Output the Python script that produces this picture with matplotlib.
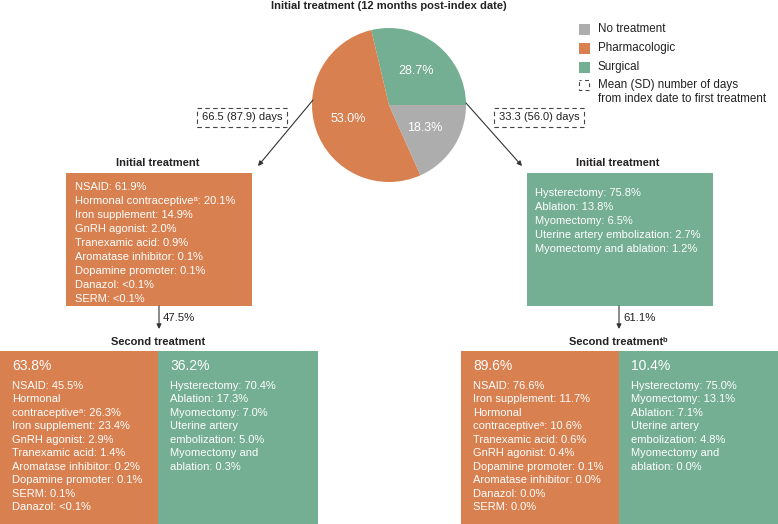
import matplotlib
matplotlib.use("Agg")
import matplotlib.pyplot as plt
from matplotlib.patches import Rectangle

# ---------------- data ----------------
pie_labels = ["Surgical", "Pharmacologic", "No treatment"]
pie_values = [28.7, 53.0, 18.3]
legend_labels = ["No treatment", "Pharmacologic", "Surgical"]
days_pharm = "66.5 (87.9) days"
days_surg = "33.3 (56.0) days"

pharm_init_names = ["NSAID", "Hormonal contraceptive\u1d43", "Iron supplement", "GnRH agonist",
                    "Tranexamic acid", "Aromatase inhibitor", "Dopamine promoter", "Danazol", "SERM"]
pharm_init_vals = ["61.9%", "20.1%", "14.9%", "2.0%", "0.9%", "0.1%", "0.1%", "<0.1%", "<0.1%"]

surg_init_names = ["Hysterectomy", "Ablation", "Myomectomy", "Uterine artery embolization",
                   "Myomectomy and ablation"]
surg_init_vals = ["75.8%", "13.8%", "6.5%", "2.7%", "1.2%"]

pharm_to_second = "47.5%"
surg_to_second = "61.1%"

# second treatment after pharmacologic
p2_pharm_share = "63.8%"
p2_pharm_names = ["NSAID", "Hormonal\ncontraceptive\u1d43", "Iron supplement", "GnRH agonist",
                  "Tranexamic acid", "Aromatase inhibitor", "Dopamine promoter", "SERM", "Danazol"]
p2_pharm_vals = ["45.5%", "26.3%", "23.4%", "2.9%", "1.4%", "0.2%", "0.1%", "0.1%", "<0.1%"]
p2_surg_share = "36.2%"
p2_surg_names = ["Hysterectomy", "Ablation", "Myomectomy", "Uterine artery\nembolization",
                 "Myomectomy and\nablation"]
p2_surg_vals = ["70.4%", "17.3%", "7.0%", "5.0%", "0.3%"]

# second treatment after surgical
s2_pharm_share = "89.6%"
s2_pharm_names = ["NSAID", "Iron supplement", "Hormonal\ncontraceptive\u1d43", "Tranexamic acid",
                  "GnRH agonist", "Dopamine promoter", "Aromatase inhibitor", "Danazol", "SERM"]
s2_pharm_vals = ["76.6%", "11.7%", "10.6%", "0.6%", "0.4%", "0.1%", "0.0%", "0.0%", "0.0%"]
s2_surg_share = "10.4%"
s2_surg_names = ["Hysterectomy", "Myomectomy", "Ablation", "Uterine artery\nembolization",
                 "Myomectomy and\nablation"]
s2_surg_vals = ["75.0%", "13.1%", "7.1%", "4.8%", "0.0%"]

# ---------------- style ----------------
ORANGE = "#D8804F"
GREEN = "#74AE93"
GRAY = "#ADADAD"
DARK = "#222222"
FAM = ["Liberation Sans", "DejaVu Sans"]
plt.rcParams["font.family"] = FAM

W, H = 778, 524
fig = plt.figure(figsize=(W / 100, H / 100), dpi=100)
ax = fig.add_axes([0, 0, 1, 1])

# pie
cx, cy, r = 389, 105, 77
pie_colors = {"Surgical": GREEN, "Pharmacologic": ORANGE, "No treatment": GRAY}
wedges, _, autotexts = ax.pie(pie_values, colors=[pie_colors[l] for l in pie_labels],
                              startangle=0, counterclock=False, center=(cx, cy), radius=r,
                              autopct="%.1f%%", pctdistance=0.56,
                              wedgeprops=dict(linewidth=0), frame=False)
for t in autotexts:
    t.set_color("white")
    t.set_fontsize(9)

ax.set_xlim(0, W)
ax.set_ylim(H, 0)
ax.set_aspect("equal")
ax.axis("off")

# title
ax.text(389, 6, "Initial treatment (12 months post-index date)", ha="center", va="center",
        fontsize=8, fontweight="bold", color=DARK)

# legend
leg_y = [29, 48, 67]
for yy, lab in zip(leg_y, legend_labels):
    ax.add_patch(Rectangle((579, yy - 5.5), 11, 11, facecolor=pie_colors[lab], edgecolor="none"))
    ax.text(598, yy, lab, ha="left", va="center", fontsize=8.4, color=DARK)
ax.add_patch(Rectangle((579.5, 79.5), 10, 10, facecolor="none", edgecolor="#444444", lw=0.8,
                       linestyle=(1.5, (3.5, 3))))
ax.text(598, 85, "Mean (SD) number of days", ha="left", va="center", fontsize=8.4, color=DARK)
ax.text(598, 99, "from index date to first treatment", ha="left", va="center", fontsize=8.4,
        color=DARK)

# dashed day boxes
box_kw = dict(boxstyle="square,pad=0.4", facecolor="white", edgecolor="#444444", lw=0.8,
              linestyle=(0, (4, 3)))
ax.text(242, 117.5, days_pharm, ha="center", va="center", fontsize=8, color=DARK, bbox=box_kw)
ax.text(539, 117.5, days_surg, ha="center", va="center", fontsize=8, color=DARK, bbox=box_kw)

arrow_kw = dict(arrowstyle="-|>", color="#333333", lw=0.8, mutation_scale=7,
                shrinkA=0, shrinkB=0)
ax.annotate("", xy=(258, 166), xytext=(313, 100), arrowprops=arrow_kw)
ax.annotate("", xy=(522, 166), xytext=(466, 103), arrowprops=arrow_kw)

# initial treatment boxes
ax.text(158, 163, "Initial treatment", ha="center", va="center", fontsize=8,
        fontweight="bold", color=DARK)
ax.add_patch(Rectangle((66, 173), 186, 133, facecolor=ORANGE, edgecolor="none"))
for i, (n, v) in enumerate(zip(pharm_init_names, pharm_init_vals)):
    ax.text(75, 187 + 14 * i, f"{n}: {v}", ha="left", va="center", fontsize=8, color="white")

ax.text(618, 163, "Initial treatment", ha="center", va="center", fontsize=8,
        fontweight="bold", color=DARK)
ax.add_patch(Rectangle((527, 173), 186, 133, facecolor=GREEN, edgecolor="none"))
for i, (n, v) in enumerate(zip(surg_init_names, surg_init_vals)):
    ax.text(535, 193 + 14 * i, f"{n}: {v}", ha="left", va="center", fontsize=8, color="white")

# arrows to second treatment
ax.annotate("", xy=(159, 329), xytext=(159, 306), arrowprops=arrow_kw)
ax.text(163, 318, pharm_to_second, ha="left", va="center", fontsize=8.2, color=DARK)
ax.annotate("", xy=(619, 329), xytext=(619, 306), arrowprops=arrow_kw)
ax.text(623, 318, surg_to_second, ha="left", va="center", fontsize=8.2, color=DARK)

ax.text(158, 342, "Second treatment", ha="center", va="center", fontsize=8,
        fontweight="bold", color=DARK)
ax.text(618, 342, "Second treatment\u1d47", ha="center", va="center", fontsize=8,
        fontweight="bold", color=DARK)


def panel(x0, x1, color, share, names, vals):
    ax.add_patch(Rectangle((x0, 351), x1 - x0, H - 351 + 2, facecolor=color, edgecolor="none"))
    ax.text(x0 + 12, 366, share, ha="left", va="center", fontsize=10, color="white")
    lines = []
    for n, v in zip(names, vals):
        lines.extend(f"{n}: {v}".split("\n"))
    for i, ln in enumerate(lines):
        ax.text(x0 + 12, 386 + 13.45 * i, ln, ha="left", va="center", fontsize=8, color="white")


panel(0, 158, ORANGE, p2_pharm_share, p2_pharm_names, p2_pharm_vals)
panel(158, 318, GREEN, p2_surg_share, p2_surg_names, p2_surg_vals)
panel(461, 619, ORANGE, s2_pharm_share, s2_pharm_names, s2_pharm_vals)
panel(619, W + 2, GREEN, s2_surg_share, s2_surg_names, s2_surg_vals)

fig.savefig("out.png", dpi=100)
